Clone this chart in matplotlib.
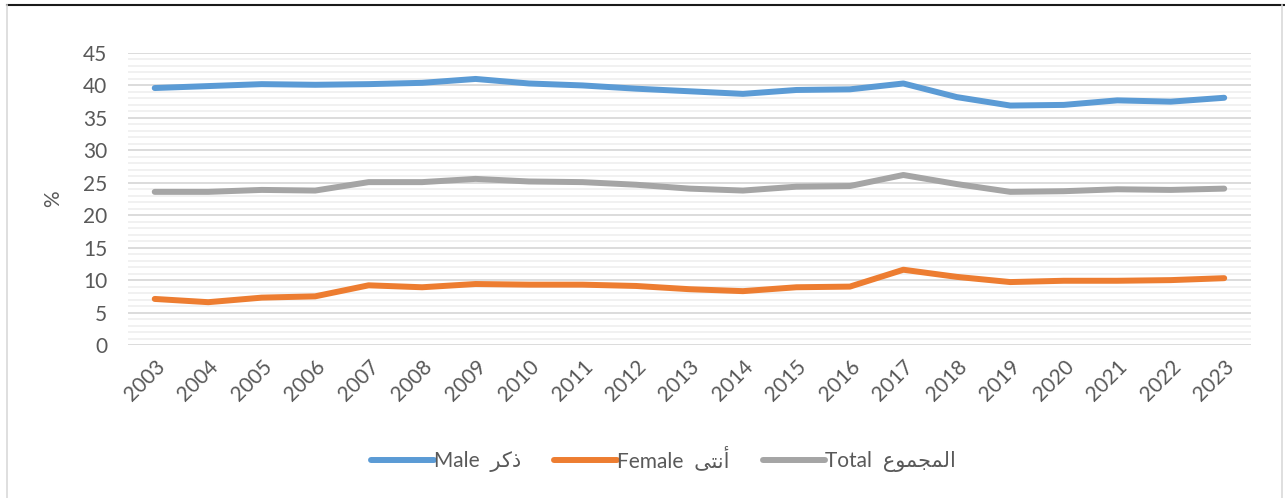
import matplotlib.pyplot as plt
from matplotlib.ticker import MultipleLocator
from matplotlib.lines import Line2D
import numpy as np

years = [str(y) for y in range(2003, 2024)]
male = [39.6, 39.9, 40.2, 40.1, 40.2, 40.4, 41.0, 40.3, 40.0, 39.5, 39.1,
        38.7, 39.3, 39.4, 40.3, 38.2, 36.9, 37.0, 37.7, 37.5, 38.1]
female = [7.1, 6.6, 7.3, 7.5, 9.2, 8.9, 9.4, 9.3, 9.3, 9.1, 8.6,
          8.3, 8.9, 9.0, 11.6, 10.5, 9.7, 9.9, 9.9, 10.0, 10.3]
total = [23.6, 23.6, 23.9, 23.8, 25.1, 25.1, 25.6, 25.2, 25.1, 24.7, 24.1,
         23.8, 24.4, 24.5, 26.2, 24.8, 23.6, 23.7, 24.0, 23.9, 24.1]

# arabic in visual order, presentation forms (matplotlib does no shaping)
ar_male = "\uFEAE\uFEDB\uFEAB"
ar_female = "\uFEF0\uFE98\uFEE7\uFE83"
ar_total = "\uFEC9\uFEEE\uFEE4\uFEA0\uFEE4\uFEDF\uFE8D"
labels = ["Male  " + ar_male, "Female  " + ar_female, "Total  " + ar_total]
colors = ["#5B9BD5", "#ED7D31", "#A5A5A5"]

plt.rcParams['font.family'] = ['Lato', 'DejaVu Sans']

fig = plt.figure(figsize=(12.85, 4.98), dpi=100)
ax = fig.add_axes([0.0996, 0.3072, 0.8739, 0.5864])

x = np.arange(len(years))
for vals, c, lab in zip([male, female, total], colors, labels):
    ax.plot(x, vals, color=c, lw=4.3, solid_capstyle='round',
            solid_joinstyle='round', label=lab, zorder=3)

ax.set_xlim(-0.5, len(years) - 0.5)
ax.set_ylim(0, 45)
ax.yaxis.set_major_locator(MultipleLocator(5))
ax.yaxis.set_minor_locator(MultipleLocator(1))
ax.grid(axis='y', which='major', color='#d9d9d9', lw=1.3, zorder=0)
ax.grid(axis='y', which='minor', color='#f0f0f0', lw=1.3, zorder=0)
ax.set_axisbelow(True)
for s in ax.spines.values():
    s.set_visible(False)
ax.tick_params(which='both', length=0, colors='#595959', labelsize=15)
ax.tick_params(axis='y', pad=15)
ax.set_xticks(x)
ax.set_xticklabels(years, rotation=45, ha='right', rotation_mode='anchor')
ax.tick_params(axis='x', pad=8)
ax.set_ylabel('%', color='#595959', fontsize=15, labelpad=14)

ax.legend(loc='center', bbox_to_anchor=(0.477, -0.39), ncol=3, frameon=False,
          fontsize=15, labelcolor='#595959', handlelength=3.0,
          handletextpad=0.0, columnspacing=1.6)

# outer frame of the chart box
fig.add_artist(Line2D([7 / 1285, 1.0], [1 - 5.5 / 498] * 2,
                      transform=fig.transFigure, color='#1a1a1a', lw=1.5))
fig.add_artist(Line2D([7 / 1285] * 2, [0, 1 - 5.5 / 498],
                      transform=fig.transFigure, color='#d9d9d9', lw=1.2))
fig.add_artist(Line2D([1282 / 1285] * 2, [0, 1 - 5.5 / 498],
                      transform=fig.transFigure, color='#d9d9d9', lw=1.2))

fig.savefig('out.png', dpi=100)
